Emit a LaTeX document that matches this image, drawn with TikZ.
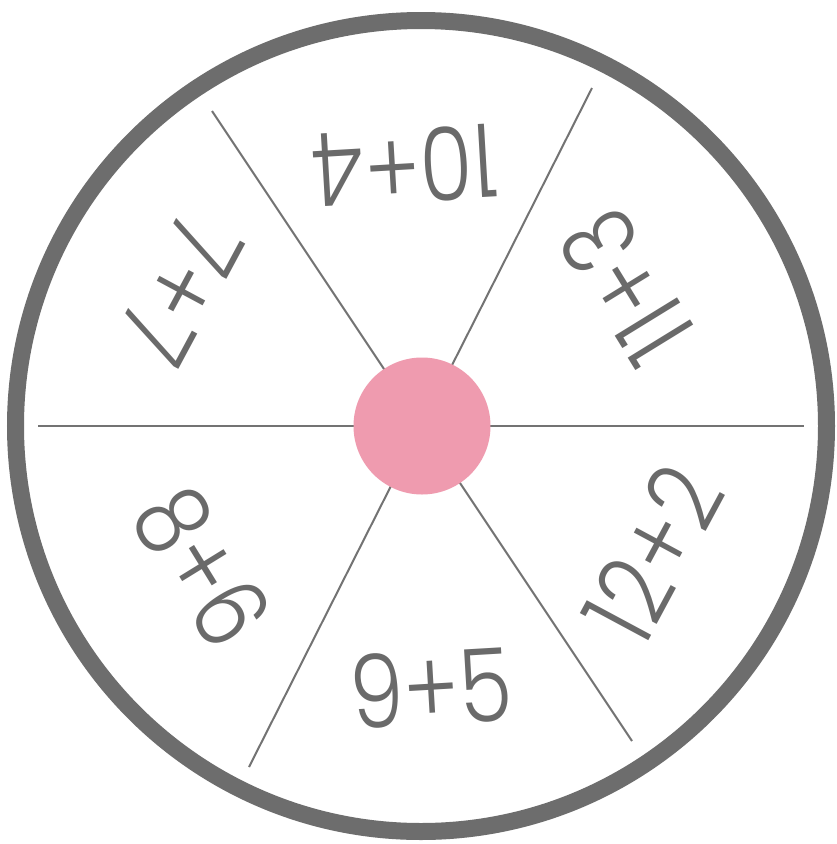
\documentclass[tikz,border=0pt]{standalone}
\usepackage{fontspec}
\usetikzlibrary{calc}
\setmainfont{Poppins}[UprightFont=* Light]
\definecolor{ringgray}{RGB}{109,109,109}
\definecolor{spokegray}{RGB}{115,115,115}
\definecolor{textgray}{RGB}{106,106,106}
\definecolor{hubpink}{RGB}{239,155,175}
\begin{document}
\begin{tikzpicture}[x=1pt,y=-1pt,
  spoke/.style={draw=spokegray,line width=2pt},
  sumlabel/.style={text=textgray,font=\fontsize{102}{102}\selectfont,inner sep=0pt,anchor=center}]
\useasboundingbox (0,0) rectangle (837,844);
\fill[white] (0,0) rectangle (837,844);
\coordinate (c) at (421,426);
% spokes
\coordinate (s1) at ($(c)+(-209,-315)$);
\coordinate (s2) at ($(c)+(211,315)$);
\coordinate (s3) at ($(c)+(171,-338)$);
\coordinate (s4) at ($(c)+(-172,341)$);
\coordinate (s5) at ($(c)+(-383,0)$);
\coordinate (s6) at ($(c)+(383,0)$);
\draw[spoke] (s1) -- (s2);
\draw[spoke] (s3) -- (s4);
\draw[spoke] (s5) -- (s6);
% ring
\draw[ringgray,line width=17pt] (c) circle[radius=405.5];
% hub
\node[circle,fill=hubpink,minimum size=137pt,inner sep=0pt] (hub) at (422,426) {};
% labels
\node[sumlabel,rotate=183.35,xscale=0.84] (a) at (405,166) {10+4};
\node[sumlabel,rotate=121.6,xscale=0.84] (b) at (627,287) {11+3};
\node[sumlabel,rotate=61.75,xscale=0.84] (d) at (653,554) {12+2};
\node[sumlabel,rotate=3.35,xscale=0.84] (e) at (431,688) {9+5};
\node[sumlabel,rotate=301.6,xscale=0.84] (f) at (202,567) {8+6};
\node[sumlabel,rotate=241.75,xscale=0.84] (g) at (180,290) {7+7};
\end{tikzpicture}
\end{document}
